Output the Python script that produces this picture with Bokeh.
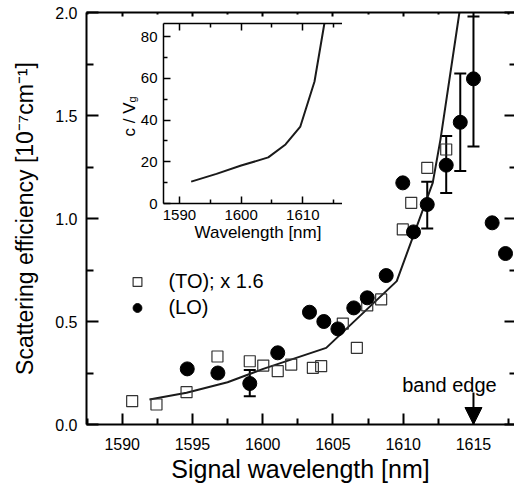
import math
from bokeh.plotting import figure
from bokeh.models import (Range1d, LinearAxis, FixedTicker, Whisker, ColumnDataSource,
                          Arrow, NormalHead, Label, Legend, LegendItem, TeeHead,
                          PrintfTickFormatter)
from bokeh.layouts import column
from bokeh.embed import file_html
from bokeh.resources import INLINE

FONT = "Liberation Sans"

# ---------------- data ----------------
to_x = [1590.71, 1592.44, 1594.58, 1596.78, 1599.08, 1600.04, 1601.07, 1602.03, 1603.57,
        1604.16, 1605.70, 1606.70, 1607.44, 1608.43, 1609.97, 1610.57, 1611.71, 1613.06]
to_y = [0.113, 0.097, 0.157, 0.330, 0.307, 0.286, 0.259, 0.291, 0.275,
        0.283, 0.490, 0.372, 0.578, 0.607, 0.947, 1.076, 1.246, 1.335]

lo_x = [1594.63, 1596.81, 1599.08, 1601.07, 1603.33, 1604.35, 1605.35, 1606.48, 1607.44,
        1608.79, 1609.97, 1610.73, 1611.71, 1613.06, 1614.06, 1615.00, 1616.33, 1617.28]
lo_y = [0.270, 0.250, 0.199, 0.348, 0.545, 0.500, 0.464, 0.566, 0.615,
        0.723, 1.173, 0.935, 1.068, 1.259, 1.467, 1.678, 0.979, 0.830]

err_x = [1599.08, 1611.71, 1613.06, 1614.06, 1615.00]
err_lower = [0.137, 0.951, 1.124, 1.230, 1.350]
err_upper = [0.264, 1.178, 1.400, 1.704, 1.980]

curve_x = [1591.94, 1594.58, 1597.50, 1600.04, 1604.52, 1609.54, 1612.10, 1612.65, 1614.00]
curve_y = [0.121, 0.154, 0.205, 0.270, 0.372, 0.696, 1.173, 1.383, 2.000]

inset_x = [1591.9, 1596.0, 1600.0, 1604.4, 1607.2, 1609.6, 1611.9, 1613.5]
inset_y = [10.5, 14.2, 18.2, 22.1, 28.3, 36.9, 58.5, 86.3]

x_ticks = [1590, 1595, 1600, 1605, 1610, 1615]
x_minor = [1587.5, 1592.5, 1597.5, 1602.5, 1607.5, 1612.5, 1617.5]
y_ticks = [0.0, 0.5, 1.0, 1.5, 2.0]
y_minor = [0.25, 0.75, 1.25, 1.75]

ix_ticks = [1590, 1600, 1610]
ix_minor = [1595, 1605, 1615]
iy_ticks = [0, 20, 40, 60, 80]
iy_minor = [10, 30, 50, 70]

band_edge = 1615.0
arrow_top = 0.155
band_label_y = 0.193

X0, X1 = 1587.46, 1617.92

# ---------------- main figure ----------------
p = figure(frame_width=428, frame_height=412,
           x_range=Range1d(X0, X1), y_range=Range1d(0.0, 2.0),
           output_backend="svg", toolbar_location=None,
           min_border_left=86, min_border_top=12, min_border_right=0, min_border_bottom=0)
p.outline_line_color = None
p.xgrid.visible = False
p.ygrid.visible = False
p.background_fill_color = "white"
p.border_fill_color = "white"


def style_axis(ax, major_in, minor_in, lw=2, label_size="16px", standoff=10):
    ax.major_tick_in = major_in
    ax.major_tick_out = 0
    ax.minor_tick_in = minor_in
    ax.minor_tick_out = 0
    ax.axis_line_width = lw
    ax.major_tick_line_width = lw
    ax.minor_tick_line_width = lw
    ax.axis_line_color = "black"
    ax.major_tick_line_color = "black"
    ax.minor_tick_line_color = "black"
    ax.major_label_text_font = FONT
    ax.major_label_text_font_size = label_size
    ax.major_label_text_color = "black"
    ax.major_label_standoff = standoff
    ax.axis_label_text_font = FONT
    ax.axis_label_text_font_style = "normal"
    ax.axis_label_text_color = "black"


xax = p.xaxis[0]
xax.ticker = FixedTicker(ticks=x_ticks, minor_ticks=x_minor)
style_axis(xax, 11, 6, standoff=13)
xax.axis_label = "Signal wavelength [nm]"
xax.axis_label_text_font_size = "25px"
xax.axis_label_standoff = 2

yax = p.yaxis[0]
yax.ticker = FixedTicker(ticks=y_ticks, minor_ticks=y_minor)
yax.formatter = PrintfTickFormatter(format="%.1f")
style_axis(yax, 12, 7, standoff=9)
yax.axis_label = "Scattering efficiency [10\u207b\u2077cm\u207b\u00b9]"
yax.axis_label_text_font_size = "23px"
yax.axis_label_standoff = 14

top_ax = LinearAxis(ticker=FixedTicker(ticks=x_ticks, minor_ticks=x_minor))
style_axis(top_ax, 4, 2, label_size="0px", standoff=0)
top_ax.major_label_text_alpha = 0
p.add_layout(top_ax, "above")

right_ax = LinearAxis(ticker=FixedTicker(ticks=y_ticks, minor_ticks=y_minor))
style_axis(right_ax, 10, 5, label_size="0px", standoff=0)
right_ax.major_label_text_alpha = 0
right_ax.axis_line_color = None
p.add_layout(right_ax, "right")

p.line(curve_x, curve_y, line_color="#1a1a1a", line_width=2)

err_src = ColumnDataSource(dict(x=err_x, lower=err_lower, upper=err_upper))
whisk = Whisker(base="x", lower="lower", upper="upper", source=err_src, dimension="height",
                line_width=2, line_color="black",
                upper_head=TeeHead(size=12, line_width=2, line_color="black"),
                lower_head=TeeHead(size=12, line_width=2, line_color="black"))
p.add_layout(whisk)

sq = p.scatter(to_x, to_y, marker="square", size=11, fill_color=None,
               line_color="#333333", line_width=1.2)
ci = p.scatter(lo_x, lo_y, marker="circle", size=14, fill_color="black", line_color="black")

legend = Legend(items=[LegendItem(label="(TO); x 1.6", renderers=[sq]),
                       LegendItem(label="(LO)", renderers=[ci])],
                location=(40.4, 104.6), glyph_width=22, glyph_height=23, label_height=23,
                spacing=3, padding=0, margin=0, label_standoff=20,
                border_line_color=None, background_fill_alpha=0,
                label_text_font=FONT, label_text_font_size="20px", label_text_color="black")
p.add_layout(legend)

p.add_layout(Arrow(x_start=band_edge, y_start=arrow_top, x_end=band_edge, y_end=0.0,
                   line_width=2, line_color="black",
                   end=NormalHead(size=17, fill_color="black", line_color="black")))
p.add_layout(Label(x=band_edge, y=band_label_y, x_offset=-24, text="band edge",
                   text_align="center", text_baseline="alphabetic",
                   text_font=FONT, text_font_size="20px", text_color="black"))

# inset y title (drawn in the main frame, beneath the transparent inset border)
p.add_layout(Label(x=X0, y=1.398, x_offset=43, angle=math.pi / 2, text="c / V",
                   text_align="left", text_baseline="alphabetic",
                   text_font=FONT, text_font_size="17px", text_color="black"))
p.add_layout(Label(x=X0, y=1.563, x_offset=45, angle=math.pi / 2, text="g",
                   text_align="left", text_baseline="alphabetic",
                   text_font=FONT, text_font_size="11px", text_color="black"))

# ---------------- inset ----------------
ins = figure(frame_width=189, frame_height=180,
             x_range=Range1d(1587.41, 1618.06), y_range=Range1d(0, 86.3),
             output_backend="svg", toolbar_location=None,
             min_border_left=70, min_border_top=8, min_border_right=6, min_border_bottom=0)
ins.outline_line_color = None
ins.xgrid.visible = False
ins.ygrid.visible = False
ins.background_fill_color = "white"
ins.border_fill_alpha = 0

ixa = ins.xaxis[0]
ixa.ticker = FixedTicker(ticks=ix_ticks, minor_ticks=ix_minor)
style_axis(ixa, 7, 4, lw=1.5, label_size="15px", standoff=6)
ixa.axis_label = "Wavelength [nm]"
ixa.axis_label_text_font_size = "17px"
ixa.axis_label_standoff = 0

iya = ins.yaxis[0]
iya.ticker = FixedTicker(ticks=iy_ticks, minor_ticks=iy_minor)
style_axis(iya, 7, 4, lw=1.5, label_size="15px", standoff=6)

itop = LinearAxis(ticker=FixedTicker(ticks=ix_ticks, minor_ticks=ix_minor))
style_axis(itop, 7, 4, lw=1.5, label_size="0px", standoff=0)
itop.major_label_text_alpha = 0
ins.add_layout(itop, "above")

iright = LinearAxis(ticker=FixedTicker(ticks=iy_ticks, minor_ticks=iy_minor))
style_axis(iright, 7, 4, lw=1.5, label_size="0px", standoff=0)
iright.major_label_text_alpha = 0
ins.add_layout(iright, "right")

ins.line(inset_x, inset_y, line_color="#1a1a1a", line_width=2)

ins.styles = {"position": "absolute", "left": "77px", "top": "15px", "z-index": "5"}

layout = column(p, ins)
layout.styles = {"position": "relative"}

open("out.html", "w").write(file_html(layout, INLINE))
